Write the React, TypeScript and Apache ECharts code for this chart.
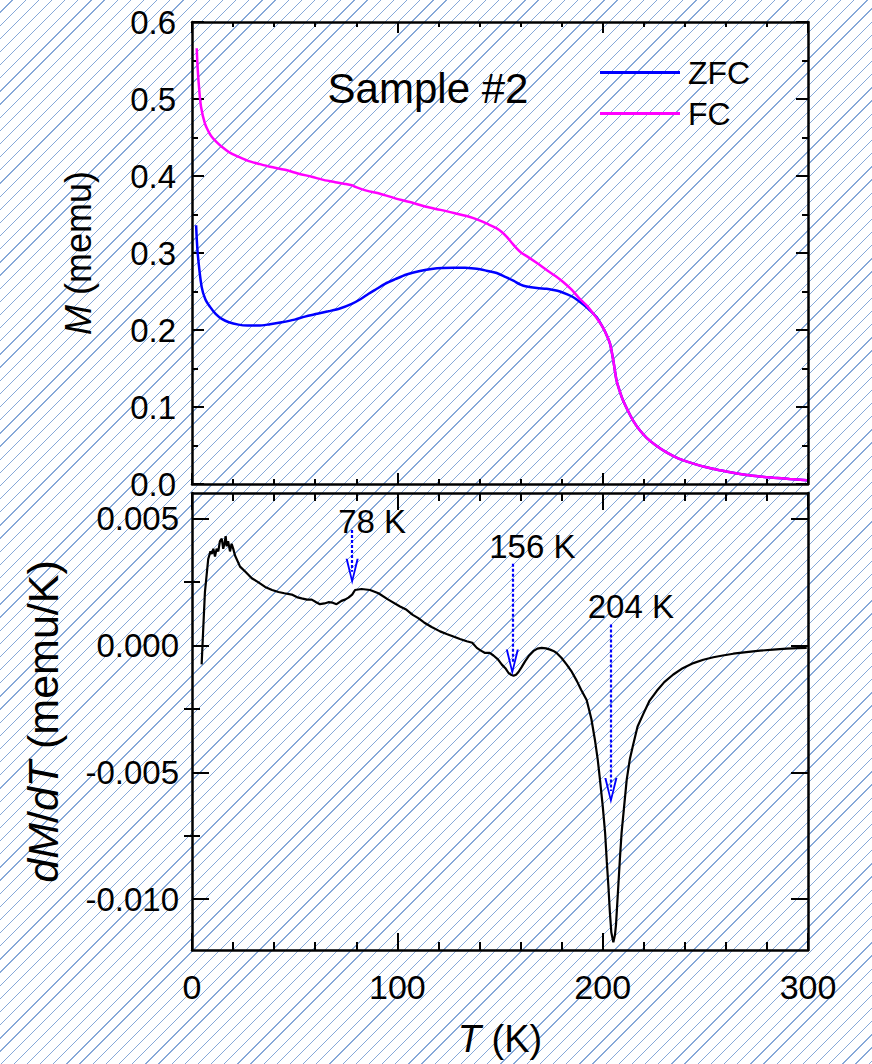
import React, { useEffect, useRef } from "react";
import * as echarts from "echarts";

// ---------- data ----------
const zfcT = [2, 2.8, 4.7, 6.5, 8.8, 11.5, 14.5, 18, 22.6, 27, 32.3, 38, 43.7, 50, 55, 61, 66.4, 72, 77.8, 82, 86, 90, 94, 99, 104.5, 111, 117.5, 122, 127.3, 133, 138.7, 143.5, 148.4, 152.5, 156.5, 160, 163, 168, 172.7, 176, 179.2, 182.5, 185.7, 189, 192.2, 195.5, 197.1, 200.3];
const zfcM = [0.336, 0.299, 0.256, 0.24, 0.23, 0.221, 0.2145, 0.21, 0.207, 0.2058, 0.2057, 0.2075, 0.21, 0.2135, 0.2174, 0.221, 0.2243, 0.228, 0.234, 0.24, 0.247, 0.2535, 0.26, 0.266, 0.272, 0.2765, 0.2795, 0.2805, 0.281, 0.2808, 0.2795, 0.277, 0.274, 0.269, 0.264, 0.259, 0.2565, 0.2545, 0.2535, 0.252, 0.25, 0.2465, 0.2425, 0.2365, 0.2295, 0.221, 0.2165, 0.2025];

const fcT = [2.3, 2.8, 3.4, 4.4, 6.3, 8, 9.6, 12, 14.5, 18, 22.6, 27, 32.3, 38, 45.3, 52, 58.3, 64, 69.7, 74, 77.8, 79.5, 85, 91.6, 99, 107.8, 114, 121, 128.9, 135, 140.3, 144.5, 148.4, 151, 153.3, 155.8, 158.1, 160.5, 163, 168, 172.7, 177, 180.9, 185, 189, 192.5, 195.5, 198, 200.3];
const fcM = [0.566, 0.538, 0.516, 0.49, 0.468, 0.458, 0.451, 0.444, 0.438, 0.431, 0.425, 0.42, 0.416, 0.412, 0.408, 0.403, 0.399, 0.395, 0.392, 0.39, 0.388, 0.386, 0.381, 0.377, 0.371, 0.365, 0.36, 0.356, 0.351, 0.347, 0.342, 0.337, 0.332, 0.327, 0.321, 0.313, 0.306, 0.3, 0.296, 0.287, 0.278, 0.27, 0.262, 0.252, 0.24, 0.231, 0.221, 0.212, 0.2025];

// common high-temperature tail (ZFC and FC coincide)
const tailT = [202, 203.6, 205.2, 206.8, 208.5, 210, 212.5, 214.9, 218, 221.4, 226, 231.1, 237, 244.2, 250, 257.2, 263.5, 270.2, 276.5, 283.2, 291, 299.4];
const tailM = [0.193, 0.182, 0.16, 0.134, 0.119, 0.108, 0.094, 0.082, 0.07, 0.06, 0.05, 0.041, 0.033, 0.0265, 0.022, 0.0178, 0.0145, 0.0117, 0.0098, 0.0082, 0.0065, 0.0048];

const dT = [4.7, 5.5, 6.3, 7.9, 9.0, 9.6, 10.4, 11.2, 12.0, 12.8, 13.6, 14.5, 15.2, 15.8, 16.4, 16.9, 17.6, 18.5, 19.3, 20.1, 20.9, 23.4, 26, 29.1, 32, 35.6, 39, 42.1, 45, 48.6, 51, 53.4, 56, 58.3, 60.5, 62.3, 64.5, 66.4, 68.5, 70.4, 72.8, 74.5, 76.2, 78, 79.4, 82.6, 86.7, 90.8, 95.6, 101.3, 104.5, 107.5, 110.2, 113, 116.7, 120.8, 124, 127.3, 130.5, 133.8, 136.5, 138.7, 140.5, 142.7, 145, 146.8, 149, 150.9, 152.6, 154.1, 155.4, 156.6, 157.8, 159, 160.6, 162.2, 164.2, 166.2, 168.2, 170.3, 172.4, 174.4, 176, 177.6, 180, 182.5, 185, 187.4, 189.5, 192.2, 194.5, 196.3, 197.6, 198.7, 200, 201.2, 202, 202.8, 203.5, 204.2, 205.2, 206, 206.5, 207.6, 208.4, 209.2, 210.5, 211.7, 213.2, 214.9, 217, 219.8, 222.7, 226.3, 230, 234.4, 239, 244.2, 249, 253.9, 258.5, 263.6, 270, 276.6, 283, 289.6, 295, 299.4];
const dMdT = [-0.00075, 0.0007, 0.0021, 0.0034, 0.0037, 0.0036, 0.0038, 0.0035, 0.0038, 0.0037, 0.0041, 0.0042, 0.0038, 0.004, 0.0043, 0.0039, 0.0041, 0.0037, 0.004, 0.0038, 0.00355, 0.0031, 0.0029, 0.00264, 0.0025, 0.0023, 0.00218, 0.0021, 0.00205, 0.002, 0.0019, 0.00185, 0.0018, 0.0018, 0.0017, 0.00162, 0.00165, 0.0017, 0.00168, 0.00162, 0.00175, 0.0018, 0.00188, 0.002, 0.00218, 0.00222, 0.00218, 0.00205, 0.0018, 0.00153, 0.0014, 0.0012, 0.00107, 0.0009, 0.00072, 0.00055, 0.00045, 0.00035, 0.00025, 0.00016, 0.0001, -0.0001, -0.0002, -0.0003, -0.0003, -0.0004, -0.00055, -0.00076, -0.0009, -0.00108, -0.00116, -0.0012, -0.00116, -0.00105, -0.00085, -0.00063, -0.0004, -0.00023, -0.00013, -0.0001, -0.00012, -0.00017, -0.00022, -0.0003, -0.0005, -0.00076, -0.00105, -0.0014, -0.00175, -0.00215, -0.0029, -0.00376, -0.0045, -0.0053, -0.0063, -0.0074, -0.0085, -0.0095, -0.0105, -0.0113, -0.0117, -0.0114, -0.011, -0.0095, -0.0084, -0.0074, -0.0063, -0.0053, -0.0045, -0.0039, -0.0032, -0.0027, -0.0022, -0.0018, -0.00145, -0.00115, -0.0009, -0.0007, -0.00057, -0.00047, -0.0004, -0.00033, -0.00027, -0.00021, -0.00017, -0.00013, -0.00011, -0.0001];

// annotations: temperature, label level, arrow start, arrow head centre
const annT = [78, 156, 204];
const annText = ["78 K", "156 K", "204 K"];
const annLabelY = [0.00486, 0.00388, 0.00153];
const annStartY = [0.00454, 0.00321, 0.00082];
const annEndY = [0.0029, -0.00068, -0.00574];

const botMajor = [-0.01, -0.005, 0, 0.005];
const botMinor = [-0.0075, -0.0025, 0.0025];

const FONT = "'Liberation Sans', Arial, sans-serif";
const ARROW =
  "path://M13,0 L19.5,26 L17.5,26 L13,7 L8.5,26 L6.5,26 Z M0,26 L0.01,26 L0,25.99 Z M26,26 L25.99,26 L26,25.99 Z";

const zip = (a: number[], b: number[]) => a.map((v, i) => [v, b[i]]);

export default function App() {
  const ref = useRef<HTMLDivElement>(null);
  useEffect(() => {
    if (!ref.current) return;
    const chart = echarts.init(ref.current, undefined, { renderer: "svg" });
    const axisLine = { show: true, onZero: false, lineStyle: { color: "#000", width: 2.5 } };
    const xCommon = (grid: number, pos: string, big: boolean, labels: boolean) => ({
      type: "value",
      gridIndex: grid,
      position: pos,
      min: 0,
      max: 300,
      interval: 100,
      axisLine,
      axisTick: { show: true, inside: true, length: big ? 17 : 11, lineStyle: { color: "#000", width: 2 } },
      minorTick: { show: true, splitNumber: 5, length: big ? 8 : 5, lineStyle: { color: "#000", width: 2 } },
      splitLine: { show: false },
      axisLabel: { show: labels, fontSize: 34, color: "#000", margin: 20, fontFamily: FONT },
    });
    const yTop = (pos: string, labels: boolean) => ({
      type: "value",
      gridIndex: 0,
      position: pos,
      min: 0,
      max: 0.6,
      interval: 0.1,
      axisLine,
      axisTick: { show: true, inside: true, length: 12, lineStyle: { color: "#000", width: 2 } },
      minorTick: { show: true, splitNumber: 2, length: 6, lineStyle: { color: "#000", width: 2 } },
      splitLine: { show: false },
      axisLabel: {
        show: labels,
        fontSize: 33,
        lineHeight: 30,
        color: "#000",
        margin: 16,
        fontFamily: FONT,
        formatter: (v: number) => v.toFixed(1),
      },
    });
    const yBot = (pos: string, vals: number[], len: number, labels: boolean, line: boolean) => ({
      type: "value",
      gridIndex: 1,
      position: pos,
      min: -0.012,
      max: 0.006,
      axisLine: line ? axisLine : { show: false },
      axisTick: { show: true, inside: true, length: len, customValues: vals, lineStyle: { color: "#000", width: 2 } },
      minorTick: { show: false },
      splitLine: { show: false },
      axisLabel: {
        show: labels,
        customValues: vals,
        fontSize: 33,
        lineHeight: 30,
        color: "#000",
        margin: 13,
        fontFamily: FONT,
        formatter: (v: number) => v.toFixed(3),
      },
    });
    const nameStyle = (size: number) => ({
      fontSize: size,
      color: "#000",
      fontFamily: FONT,
      rich: { i: { fontStyle: "italic", fontSize: size, fontFamily: FONT, color: "#000" } },
    });

    const option: any = {
      animation: false,
      backgroundColor: "transparent",
      textStyle: { fontFamily: FONT },
      grid: [
        { left: 192, width: 616, top: 22, height: 462 },
        { left: 192, width: 616, top: 493, height: 457 },
      ],
      xAxis: [
        xCommon(0, "bottom", false, false),
        xCommon(0, "top", false, false),
        {
          ...xCommon(1, "bottom", true, true),
          name: "{i|T} (K)",
          nameLocation: "middle",
          nameGap: 70,
          nameTextStyle: nameStyle(38),
        },
        xCommon(1, "top", true, false),
      ],
      yAxis: [
        {
          ...yTop("left", true),
          name: "{i|M} (memu)",
          nameLocation: "middle",
          nameGap: 96,
          nameTextStyle: nameStyle(36),
        },
        yTop("right", false),
        {
          ...yBot("left", botMajor, 17, true, true),
          name: "{i|dM}/{i|dT} (memu/K)",
          nameLocation: "middle",
          nameGap: 128,
          nameTextStyle: nameStyle(43),
        },
        yBot("left", botMinor, 8, false, false),
        yBot("right", botMajor, 17, false, true),
        yBot("right", botMinor, 8, false, false),
      ],
      legend: {
        show: true,
        orient: "vertical",
        left: 600,
        top: 56,
        padding: 0,
        itemWidth: 80,
        itemHeight: 3,
        itemGap: 8,
        icon: "rect",
        data: ["ZFC", "FC"],
        textStyle: { fontSize: 32, color: "#000", lineHeight: 33, padding: [0, 0, 0, 3], fontFamily: FONT },
      },
      graphic: [
        {
          type: "text",
          x: 428,
          y: 88,
          style: {
            text: "Sample #2",
            fontSize: 42,
            fontFamily: FONT,
            fill: "#000",
            align: "center",
            verticalAlign: "middle",
          },
        },
      ],
      series: [
        {
          name: "ZFC",
          type: "line",
          xAxisIndex: 0,
          yAxisIndex: 0,
          showSymbol: false,
          smooth: 0.3,
          lineStyle: { color: "#0000ff", width: 2.5 },
          itemStyle: { color: "#0000ff" },
          data: zip(zfcT.concat(tailT), zfcM.concat(tailM)),
        },
        {
          name: "FC",
          type: "line",
          xAxisIndex: 0,
          yAxisIndex: 0,
          showSymbol: false,
          smooth: 0.3,
          lineStyle: { color: "#ff00ff", width: 2.5 },
          itemStyle: { color: "#ff00ff" },
          data: zip(fcT.concat(tailT), fcM.concat(tailM)),
        },
        {
          name: "dM/dT",
          type: "line",
          xAxisIndex: 2,
          yAxisIndex: 2,
          showSymbol: false,
          lineStyle: { color: "#000", width: 2.2 },
          itemStyle: { color: "#000" },
          data: zip(dT, dMdT),
          markLine: {
            silent: true,
            symbol: ["none", ARROW],
            symbolSize: 26,
            label: { show: false },
            lineStyle: { type: [3, 2], color: "#0000ff", width: 2.2 },
            itemStyle: { color: "#0000ff" },
            emphasis: { disabled: true },
            data: annT.map((t, i) => [
              { coord: [t, annStartY[i]] },
              { coord: [t, annEndY[i]] },
            ]),
          },
        },
        {
          name: "labels",
          type: "scatter",
          xAxisIndex: 2,
          yAxisIndex: 2,
          symbolSize: 1,
          silent: true,
          itemStyle: { color: "rgba(0,0,0,0)" },
          label: {
            show: true,
            position: "inside",
            offset: [20, 0],
            formatter: "{b}",
            fontSize: 33,
            color: "#000",
            textBorderWidth: 0,
            opacity: 1,
            fontFamily: FONT,
          },
          data: annT.map((t, i) => ({ name: annText[i], value: [t, annLabelY[i]] })),
        },
      ],
    };
    chart.setOption(option);
    return () => chart.dispose();
  }, []);

  return (
    <div
      ref={ref}
      style={{
        position: "fixed",
        left: 0,
        top: 0,
        width: 872,
        height: 1064,
        background:
          "repeating-linear-gradient(135deg, #ffffff 0px, #ffffff 8.4px, #86a8d8 8.4px, #86a8d8 9.3px)",
      }}
    />
  );
}
